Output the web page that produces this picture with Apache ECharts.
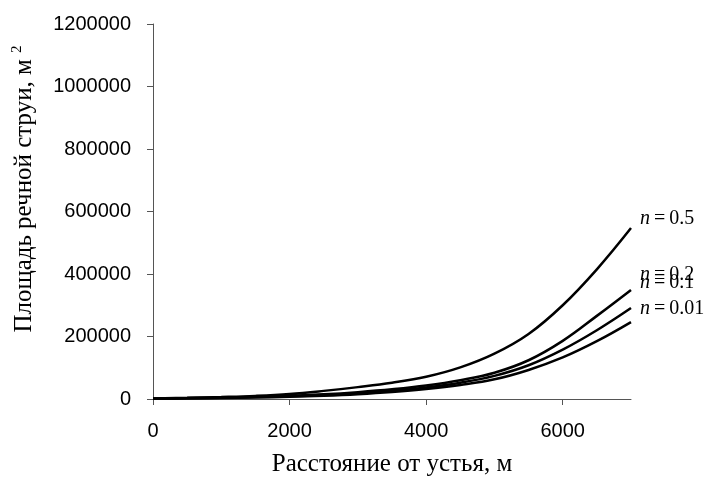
<!DOCTYPE html>
<html>
<head>
<meta charset="utf-8">
<script src="https://cdn.jsdelivr.net/npm/echarts@6/dist/echarts.min.js"></script>
<style>
html, body { margin: 0; padding: 0; background: #fff; }
#chart { width: 705px; height: 479px; }
</style>
</head>
<body>
<div id="chart"></div>
<script>
var distance = [0, 500, 1000, 1500, 2000, 2500, 3000, 3500, 4000, 4500, 5000, 5500, 6000, 6500, 7000];
var area05 = [2000, 4000, 6500, 10000, 16000, 26000, 38000, 52000, 71000, 101000, 145000, 208000, 300000, 415000, 547000];
var area02 = [1500, 3000, 5000, 7000, 10000, 15000, 22000, 31000, 43000, 60000, 84000, 124000, 186000, 266000, 349000];
var area01 = [1200, 2500, 4000, 6000, 8500, 12500, 18500, 26500, 37000, 52000, 74000, 108000, 158000, 220000, 291000];
var area001 = [1000, 2000, 3500, 5000, 7000, 10500, 15500, 22500, 32000, 45000, 63000, 93000, 133000, 185000, 246000];
var curveNames = ['0.5', '0.2', '0.1', '0.01'];
var xTicks = [0, 2000, 4000, 6000];

var chart = echarts.init(document.getElementById('chart'));

function pairs(ys) {
    return distance.map(function (x, i) { return [x, ys[i]]; });
}

function curve(name, ys, dy) {
    return {
        name: name,
        type: 'line',
        data: pairs(ys),
        smooth: 0.4,
        symbol: 'none',
        lineStyle: { color: '#000', width: 2.5 },
        endLabel: {
            show: true,
            distance: 0,
            offset: [9, dy],
            formatter: '{i|n}\u2009=\u2009' + name,
            fontFamily: 'Liberation Serif',
            fontSize: 20,
            color: '#000',
            rich: {
                i: { fontFamily: 'Liberation Serif', fontStyle: 'italic', fontSize: 20, color: '#000' }
            }
        }
    };
}

var options = {
    animation: false,
    grid: { left: 153, top: 24, right: 74, bottom: 80, containLabel: false, outerBoundsMode: 'none' },
    xAxis: {
        type: 'value',
        min: 0,
        max: 7000,
        interval: 2000,
        splitLine: { show: false },
        axisLine: { lineStyle: { color: '#555', width: 1 } },
        axisTick: { show: true, length: 6, inside: false, customValues: xTicks, lineStyle: { color: '#555' } },
        axisLabel: {
            customValues: xTicks,
            margin: 22,
            color: '#000',
            fontFamily: 'Liberation Sans',
            fontSize: 20,
            formatter: function (v) { return String(v); }
        },
        name: 'Расстояние от устья, м',
        nameLocation: 'middle',
        nameGap: 53,
        nameTextStyle: { fontFamily: 'Liberation Serif', fontSize: 25, color: '#000' }
    },
    yAxis: {
        type: 'value',
        min: 0,
        max: 1200000,
        interval: 200000,
        splitLine: { show: false },
        axisLine: { show: true, lineStyle: { color: '#555', width: 1 } },
        axisTick: { show: true, length: 6, inside: false, lineStyle: { color: '#555' } },
        axisLabel: {
            margin: 22,
            color: '#000',
            fontFamily: 'Liberation Sans',
            fontSize: 20,
            formatter: function (v) { return String(v); }
        }
    },
    graphic: [{
        type: 'text',
        x: 24,
        y: 189,
        rotation: Math.PI / 2,
        style: {
            text: '{a|Площадь речной струи, м }{s|2}',
            align: 'center',
            verticalAlign: 'middle',
            fill: '#000',
            rich: {
                a: { fontFamily: 'Liberation Serif', fontSize: 25, fill: '#000' },
                s: { fontFamily: 'Liberation Serif', fontSize: 15, fill: '#000', padding: [0, 0, 14, 0] }
            }
        }
    }],
    series: [
        curve(curveNames[0], area05, -9),
        curve(curveNames[1], area02, -15),
        curve(curveNames[2], area01, -25),
        curve(curveNames[3], area001, -13)
    ]
};

chart.setOption(options);
</script>
</body>
</html>
